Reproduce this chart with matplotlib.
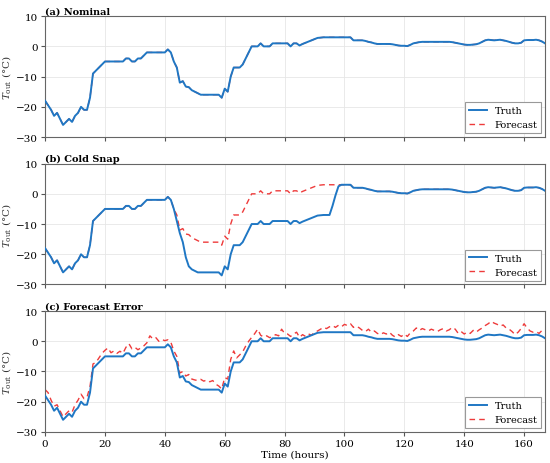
import matplotlib
matplotlib.use("Agg")
import matplotlib.pyplot as plt
import numpy as np

plt.rcParams["font.family"] = ["DejaVu Serif"]
plt.rcParams["mathtext.fontset"] = "dejavuserif"

hours = list(range(168))

truth_nominal = [
    -18, -19.5, -21, -23, -22, -24, -26, -25, -24, -25,
    -23, -22, -20, -21, -21, -17, -9, -8, -7, -6,
    -5, -5, -5, -5, -5, -5, -5, -4, -4, -5,
    -5, -4, -4, -3, -2, -2, -2, -2, -2, -2,
    -2, -1, -2, -5, -7, -12, -11.5, -13.3, -13.5, -14.5,
    -15, -15.5, -16, -16, -16, -16, -16, -16, -16, -17,
    -14, -15, -10, -7, -7, -7, -6, -4, -2, 0,
    0, 0, 1, 0, 0, 0, 1, 1, 1, 1,
    1, 1, 0, 1, 1, 0.3, 0.8, 1.2, 1.6, 2,
    2.4, 2.8, 2.9, 3, 3, 3, 3, 3, 3, 3,
    3, 3, 3, 2, 2, 2, 2, 1.8, 1.5, 1.3,
    1, 0.8, 0.8, 0.8, 0.8, 0.8, 0.7, 0.5, 0.3, 0.2,
    0.2, 0.1, 0.5, 1, 1.2, 1.4, 1.5, 1.5, 1.5, 1.5,
    1.5, 1.5, 1.5, 1.5, 1.5, 1.5, 1.4, 1.2, 1.0, 0.8,
    0.6, 0.5, 0.5, 0.6, 0.7, 1.0, 1.5, 2.0, 2.2, 2.1,
    2.0, 2.1, 2.2, 2.0, 1.8, 1.5, 1.2, 1.0, 1.0, 1.2,
    2.0, 2.1, 2.1, 2.1, 2.2, 2.0, 1.6, 1.0,
]

# hours 44..98 of the cold-snap truth
cold_snap_segment = [
    -9, -13, -16, -21, -24, -25, -25.5, -26, -26, -26,
    -26, -26, -26, -26, -26, -27, -24, -25, -20, -17,
    -17, -17, -16, -14, -12, -10, -10, -10, -9, -10,
    -10, -10, -9, -9, -9, -9, -9, -9, -10, -9,
    -9, -9.7, -9.2, -8.8, -8.4, -8, -7.6, -7.2, -7.1, -7,
    -7, -7, -4, -0.5, 2.5,
]
truth_cold = truth_nominal[:44] + cold_snap_segment + truth_nominal[99:]

forecast_error = [
    -16, -17, -19.5, -21.5, -21, -23, -25, -24, -23, -23.5,
    -21, -19.5, -17.5, -19, -18.5, -15, -7.5, -7, -5.5, -4,
    -3, -2.2, -3.8, -3.2, -4, -3.3, -4, -2, -0.8, -2.5,
    -2, -2.8, -2.2, -1.5, -0.5, 1.8, 0.8, 1.2, 0, 0.6,
    0.2, 0.5, -0.3, -3.2, -5, -10.5, -10, -11.5, -11, -12.5,
    -12.8, -13, -12.6, -13.2, -12.8, -13.4, -13, -14.2, -14.8, -15.8,
    -12, -12.5, -6, -3.2, -5.5, -4.5, -3.5, -1.6, 0, 1.3,
    2.5, 4, 2, 1.4, 1.8, 1.2, 1.5, 2.2, 1.8, 4,
    2.6, 2.4, 1.6, 2.4, 3, 1.3, 2.2, 1.6, 2.4, 2,
    3, 3.4, 4, 4.6, 4.2, 4.8, 5.2, 4.6, 5.3, 4.8,
    5.6, 5.2, 5.8, 4.6, 5, 4.4, 3.6, 3.2, 4.0, 3,
    3.4, 2.6, 2.2, 2.8, 2.4, 3, 2, 1.4, 2.2, 1.6,
    2.4, 1.6, 2.8, 3.4, 4.4, 3.6, 4.2, 3.8, 3.4, 4,
    3.6, 3.2, 3.8, 4.2, 3.4, 3.8, 4.6, 4, 2.6, 3.2,
    2.4, 3, 2.6, 3.6, 3, 3.8, 4.4, 5.2, 5.8, 6.6,
    6, 5.6, 5, 5.4, 4.4, 4, 3.2, 2.2, 3, 4.2,
    5.8, 4.4, 3.4, 3, 3.2, 2.6, 3.6, 3.8,
]

panels = [
    ("(a) Nominal", truth_nominal, truth_nominal),
    ("(b) Cold Snap", truth_cold, truth_nominal),
    ("(c) Forecast Error", truth_nominal, forecast_error),
]

fig, axes = plt.subplots(3, 1, figsize=(5.5, 4.64), dpi=100, sharex=True)
fig.subplots_adjust(left=0.082, right=0.991, top=0.963, bottom=0.067, hspace=0.22)

for ax, (title, truth, forecast) in zip(axes, panels):
    ax.plot(hours, truth, color="#1f77c4", lw=1.4, label="Truth", zorder=3)
    ax.plot(hours, forecast, color="#ee3b3b", lw=1.0, ls=(0, (4, 3)),
            label="Forecast", zorder=2)
    ax.set_xlim(0, 167)
    ax.set_ylim(-30, 10)
    ax.set_yticks([-30, -20, -10, 0, 10])
    ax.set_xticks(np.arange(0, 161, 20))
    ax.grid(True, color="#e6e6e6", lw=0.6)
    ax.set_title(title, loc="left", fontsize=7, fontweight="bold", pad=2)
    ax.set_ylabel(r"$T_{\rm out}$ (°C)", fontsize=7.5, color="#333333", labelpad=2)
    ax.tick_params(labelsize=7.5, length=3, pad=2, color="#555555")
    for sp in ax.spines.values():
        sp.set_color("#666666")
    leg = ax.legend(loc="lower right", fontsize=7, fancybox=False,
                    framealpha=1, edgecolor="#999999", handlelength=1.8,
                    borderaxespad=0.4)
    leg.get_frame().set_linewidth(0.8)

axes[-1].set_xlabel("Time (hours)", fontsize=7.5, labelpad=1)

fig.savefig("out.png", dpi=100)
